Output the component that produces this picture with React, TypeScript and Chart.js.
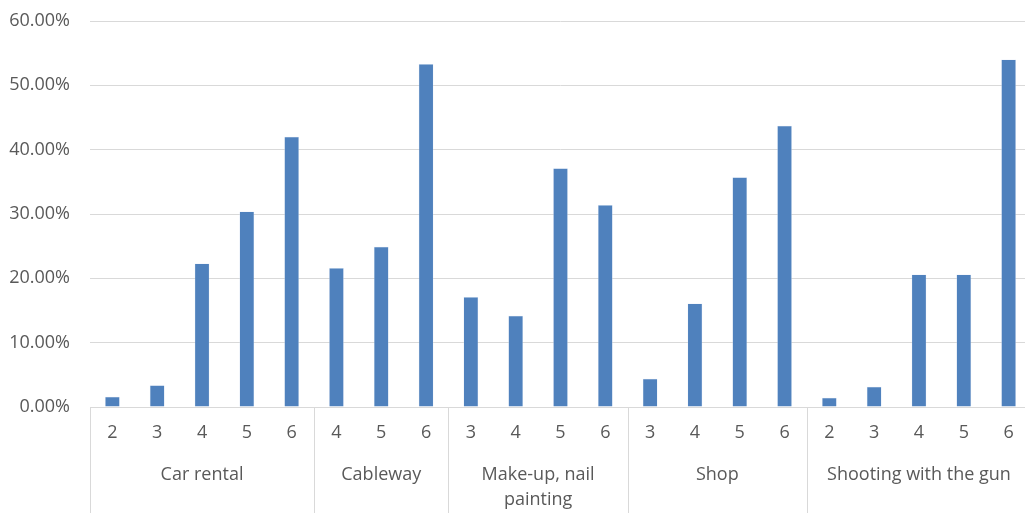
import React, { useEffect, useRef } from "react";
import { Chart, registerables } from "chart.js";

Chart.register(...registerables);

const innerLabels = ["2", "3", "4", "5", "6", "4", "5", "6", "3", "4", "5", "6", "3", "4", "5", "6", "2", "3", "4", "5", "6"];
const groupNames: (string | string[])[] = ["Car rental", "Cableway", ["Make-up, nail", "painting"], "Shop", "Shooting with the gun"];
const groupSizes = [5, 3, 4, 4, 5];
const values = [1.6, 3.4, 22.3, 30.4, 42.0, 21.6, 24.9, 53.3, 17.1, 14.2, 37.1, 31.4, 4.4, 16.1, 35.7, 43.7, 1.45, 3.15, 20.6, 20.6, 54.0];
const yTicks = [0, 10, 20, 30, 40, 50, 60];

const FONT = "'Open Sans', 'Noto Sans', sans-serif";
const TEXT = "#595959";
const GRID = "#d9d9d9";

const groupPlugin = {
  id: "groupAxis",
  afterDraw(chart: any) {
    const x = chart.scales.x;
    const ctx = chart.ctx;
    const area = chart.chartArea;
    const step = x.getPixelForValue(1) - x.getPixelForValue(0);
    const bottom = chart.height;
    ctx.save();
    ctx.strokeStyle = GRID;
    ctx.lineWidth = 1;
    let idx = 0;
    const bounds: number[] = [x.getPixelForValue(0) - step / 2];
    groupSizes.forEach((n) => {
      idx += n;
      bounds.push(x.getPixelForValue(idx - 1) + step / 2);
    });
    bounds.forEach((b, i) => {
      if (i === bounds.length - 1) return;
      const px = Math.round(b) + 0.5;
      ctx.beginPath();
      ctx.moveTo(px, area.bottom);
      ctx.lineTo(px, bottom);
      ctx.stroke();
    });
    ctx.fillStyle = TEXT;
    ctx.font = `18px ${FONT}`;
    ctx.textAlign = "center";
    ctx.textBaseline = "middle";
    groupNames.forEach((name, i) => {
      const cx = (bounds[i] + bounds[i + 1]) / 2;
      const lines = Array.isArray(name) ? name : [name];
      lines.forEach((line, j) => {
        ctx.fillText(line, cx, 475 + j * 25);
      });
    });
    ctx.restore();
  },
};

export default function App() {
  const canvasRef = useRef<HTMLCanvasElement | null>(null);

  useEffect(() => {
    if (!canvasRef.current) return;
    const chart = new Chart(canvasRef.current, {
      type: "bar",
      data: {
        labels: innerLabels,
        datasets: [
          {
            data: values,
            backgroundColor: "#4F81BD",
            borderColor: "rgba(220,230,245,0.9)",
            borderWidth: 0.5,
            barPercentage: 0.33,
            categoryPercentage: 1,
          },
        ],
      },
      options: {
        animation: false,
        responsive: false,
        layout: { padding: { top: 0, left: 0, right: 0, bottom: 0 } },
        plugins: { legend: { display: false }, tooltip: { enabled: false } },
        scales: {
          x: {
            grid: { display: false, drawTicks: false },
            border: { display: true, color: GRID, width: 1 },
            ticks: { color: TEXT, font: { family: FONT, size: 18 }, padding: 15, maxRotation: 0, autoSkip: false },
            afterFit(scale: any) {
              scale.height = 106;
            },
          },
          y: {
            min: 0,
            max: 60,
            afterBuildTicks(scale: any) {
              scale.ticks = yTicks.map((v) => ({ value: v }));
            },
            grid: { color: GRID, lineWidth: 1, drawTicks: false },
            border: { display: false },
            ticks: {
              color: TEXT,
              font: { family: FONT, size: 18 },
              padding: 20,
              callback: (v: any) => Number(v).toFixed(2) + "%",
            },
            afterFit(scale: any) {
              scale.width = 90;
              scale.paddingTop = 21;
              scale.paddingBottom = 0;
            },
          },
        },
      },
      plugins: [groupPlugin],
    });
    return () => chart.destroy();
  }, []);

  return (
    <div style={{ position: "fixed", left: 0, top: 0, width: 1025, height: 513, overflow: "hidden", background: "#fff" }}>
      <canvas ref={canvasRef} width={1031} height={513} style={{ width: 1031, height: 513, display: "block" }} />
    </div>
  );
}
